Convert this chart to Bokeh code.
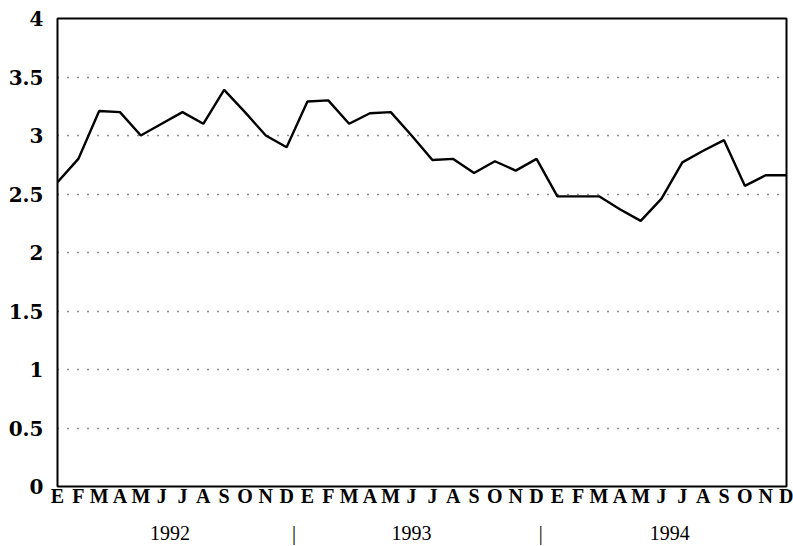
from bokeh.plotting import figure
from bokeh.models import Range1d, FixedTicker, LinearAxis
from bokeh.embed import file_html
from bokeh.resources import INLINE

months = ["E", "F", "M", "A", "M", "J", "J", "A", "S", "O", "N", "D"]
years = ["1992", "1993", "1994"]
values = [2.60, 2.80, 3.21, 3.20, 3.00, 3.10, 3.20, 3.10, 3.39, 3.20, 3.00, 2.90,
          3.29, 3.30, 3.10, 3.19, 3.20, 3.00, 2.79, 2.80, 2.68, 2.78, 2.70, 2.80,
          2.48, 2.48, 2.48, 2.37, 2.27, 2.46, 2.77, 2.87, 2.96, 2.57, 2.66, 2.66]
y_ticks = [0, 0.5, 1, 1.5, 2, 2.5, 3, 3.5, 4]
y_tick_labels = ["0", "0.5", "1", "1.5", "2", "2.5", "3", "3.5", "4"]

x = list(range(len(values)))
month_labels = [months[i % 12] for i in x]

FONT = "Liberation Serif"

p = figure(width=793, height=546, output_backend="svg", toolbar_location=None,
           x_range=Range1d(0, len(values) - 1), y_range=Range1d(0, 4),
           min_border_left=57, min_border_right=7, min_border_top=18,
           min_border_bottom=40, background_fill_color="white")

p.line(x, values, line_color="black", line_width=2.4)

p.outline_line_color = "black"
p.outline_line_width = 2
p.outline_line_alpha = 1

# y axis
p.yaxis.ticker = FixedTicker(ticks=y_ticks)
p.yaxis.major_label_overrides = {t: l for t, l in zip(y_ticks, y_tick_labels)}
p.yaxis.axis_line_color = None
p.yaxis.major_tick_line_color = None
p.yaxis.minor_tick_line_color = None
p.yaxis.major_label_text_font = "DejaVu Serif"
p.yaxis.major_label_text_font_size = "20px"
p.yaxis.major_label_text_font_style = "bold"
p.yaxis.major_label_text_color = "black"
p.yaxis.major_label_standoff = 8

# month axis
p.xaxis.ticker = FixedTicker(ticks=x)
p.xaxis.major_label_overrides = {i: l for i, l in zip(x, month_labels)}
p.xaxis.axis_line_color = None
p.xaxis.major_tick_line_color = None
p.xaxis.minor_tick_line_color = None
p.xaxis.major_label_text_font = FONT
p.xaxis.major_label_text_font_size = "20px"
p.xaxis.major_label_text_font_style = "bold"
p.xaxis.major_label_text_color = "black"
p.xaxis.major_label_standoff = -8

# year axis
year_pos = [5.4, 11.35, 17.0, 23.2, 29.4]
year_txt = [years[0], "|", years[1], "|", years[2]]
ya = LinearAxis(ticker=FixedTicker(ticks=year_pos),
                major_label_overrides={t: l for t, l in zip(year_pos, year_txt)})
ya.axis_line_color = None
ya.major_tick_line_color = None
ya.minor_tick_line_color = None
ya.major_label_text_font = FONT
ya.major_label_text_font_size = "20px"
ya.major_label_text_color = "black"
ya.major_label_standoff = 6
p.add_layout(ya, "below")

# grid
p.xgrid.grid_line_color = None
p.ygrid.grid_line_color = "black"
p.ygrid.grid_line_dash = "1 9"
p.ygrid.grid_line_width = 1.3
p.ygrid.grid_line_alpha = 0.9

open("out.html", "w").write(file_html(p, INLINE))
